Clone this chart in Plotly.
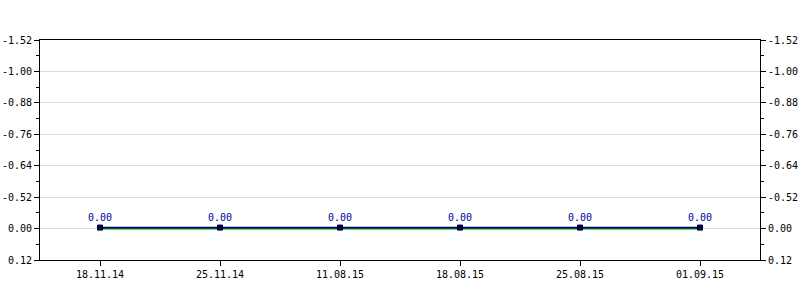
import plotly.graph_objects as go

categories = ["18.11.14", "25.11.14", "11.08.15", "18.08.15", "25.08.15", "01.09.15"]
series_green = [0.0, 0.0, 0.0, 0.0, 0.0, 0.0]
series_navy = [0.0, 0.0, 0.0, 0.0, 0.0, 0.0]
data_labels = ["0.00", "0.00", "0.00", "0.00", "0.00", "0.00"]
y_tickvals = [-0.72, -0.60, -0.48, -0.36, -0.24, -0.12, 0.0, 0.12]
y_ticktext = ["-1.52", "-1.00", "-0.88", "-0.76", "-0.64", "-0.52", "0.00", "0.12"]

FONT = "DejaVu Sans Mono"
xs = list(range(len(categories)))
Y_RANGE = [0.12, -0.72]
PX_SHIFT = (Y_RANGE[0] - Y_RANGE[1]) / 220 * 1.0

fig = go.Figure()
fig.add_trace(go.Scatter(x=xs, y=series_green, mode="lines",
                         line=dict(color="#008000", width=2), hoverinfo="skip"))
fig.add_trace(go.Scatter(x=xs, y=series_navy, yaxis="y3", mode="lines+markers+text",
                         line=dict(color="#000080", width=1.5),
                         marker=dict(symbol="square", size=5, color="#000080",
                                     line=dict(color="#000000", width=1)),
                         text=data_labels, textposition="top center",
                         textfont=dict(family=FONT, size=10, color="#0000a0")))
fig.add_trace(go.Scatter(x=xs, y=series_navy, yaxis="y2", mode="lines",
                         line=dict(width=0), opacity=0, hoverinfo="skip"))

yax = dict(range=Y_RANGE, tickmode="array", tickvals=y_tickvals,
           ticktext=y_ticktext, ticks="outside", ticklen=5, tickcolor="#000",
           showline=True, linecolor="#000", linewidth=1, automargin=False,
           showgrid=True, gridcolor="#dddddd", gridwidth=1, zeroline=False,
           tickfont=dict(family=FONT, size=10, color="#000"),
           minor=dict(ticks="outside", ticklen=3, tickcolor="#000",
                      tickmode="array",
                      tickvals=[-0.66, -0.54, -0.42, -0.30, -0.18, -0.06, 0.06],
                      showgrid=False))

fig.update_layout(
    width=800, height=300,
    margin=dict(l=40, r=40, t=40, b=40),
    paper_bgcolor="white", plot_bgcolor="white",
    showlegend=False,
    xaxis=dict(range=[-0.5, 5.5], tickmode="array", tickvals=xs, ticktext=categories,
               ticks="outside", ticklen=5, tickcolor="#000", automargin=False,
               showline=True, linecolor="#000", linewidth=1, mirror=True,
               showgrid=False, zeroline=False,
               tickfont=dict(family=FONT, size=10, color="#000")),
    yaxis=yax,
    yaxis2=dict(yax, overlaying="y", side="right", showgrid=False),
    yaxis3=dict(overlaying="y", range=[Y_RANGE[0] + PX_SHIFT, Y_RANGE[1] + PX_SHIFT],
                visible=False, showgrid=False, zeroline=False),
)

fig.write_html("out.html")
